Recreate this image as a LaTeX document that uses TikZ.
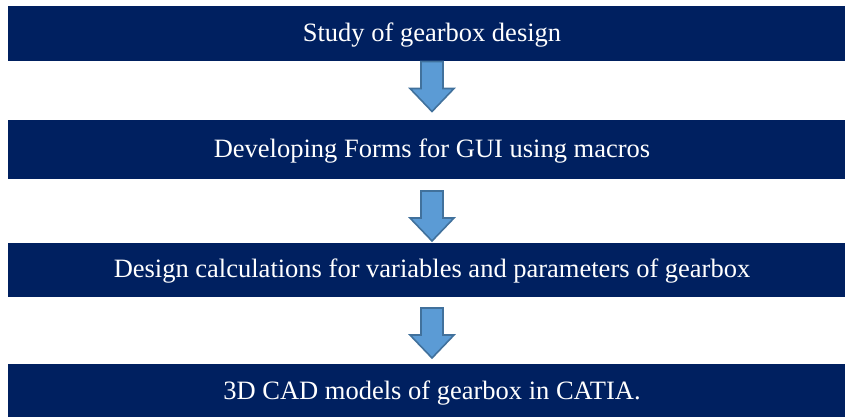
\documentclass[tikz,border=0pt]{standalone}
\usepackage{fontspec}
\setmainfont{Liberation Serif}
\definecolor{navy}{HTML}{002060}
\definecolor{arrowfill}{HTML}{5B9BD5}
\definecolor{arrowline}{HTML}{41719C}
\begin{document}
\begin{tikzpicture}[x=1pt,y=-1pt,
  stepbox/.style={fill=navy, draw=none, text=white, font=\fontsize{26.5}{30}\selectfont},
  blockarrow/.pic={
    \draw[fill=arrowfill, draw=arrowline, line width=1.6pt, line join=miter]
      (-11,0) -- (11,0) -- (11,27) -- (22,27) -- (0,50) -- (-22,27) -- (-11,27) -- cycle;
  }]
\useasboundingbox (0,0) rectangle (845,416);
\begin{scope}
\clip (0,0) rectangle (845,416);
\fill[navy] (8,6) rectangle (856,61);
\fill[navy] (8,120) rectangle (856,179);
\fill[navy] (8,243) rectangle (856,297);
\fill[navy] (8,364) rectangle (856,424);
\node[stepbox] (s1) at (432,35) {Study of gearbox design};
\node[stepbox] (s2) at (432,151) {Developing Forms for GUI using macros};
\node[stepbox] (s3) at (432,271.5) {Design calculations for variables and parameters of gearbox};
\node[stepbox] (s4) at (432,393.5) {3D CAD models of gearbox in CATIA.};
\coordinate (a1) at (432,61.5);
\coordinate (a2) at (432,191);
\coordinate (a3) at (432,308);
\pic at (a1) {blockarrow};
\pic at (a2) {blockarrow};
\pic at (a3) {blockarrow};
\end{scope}
\end{tikzpicture}
\end{document}
